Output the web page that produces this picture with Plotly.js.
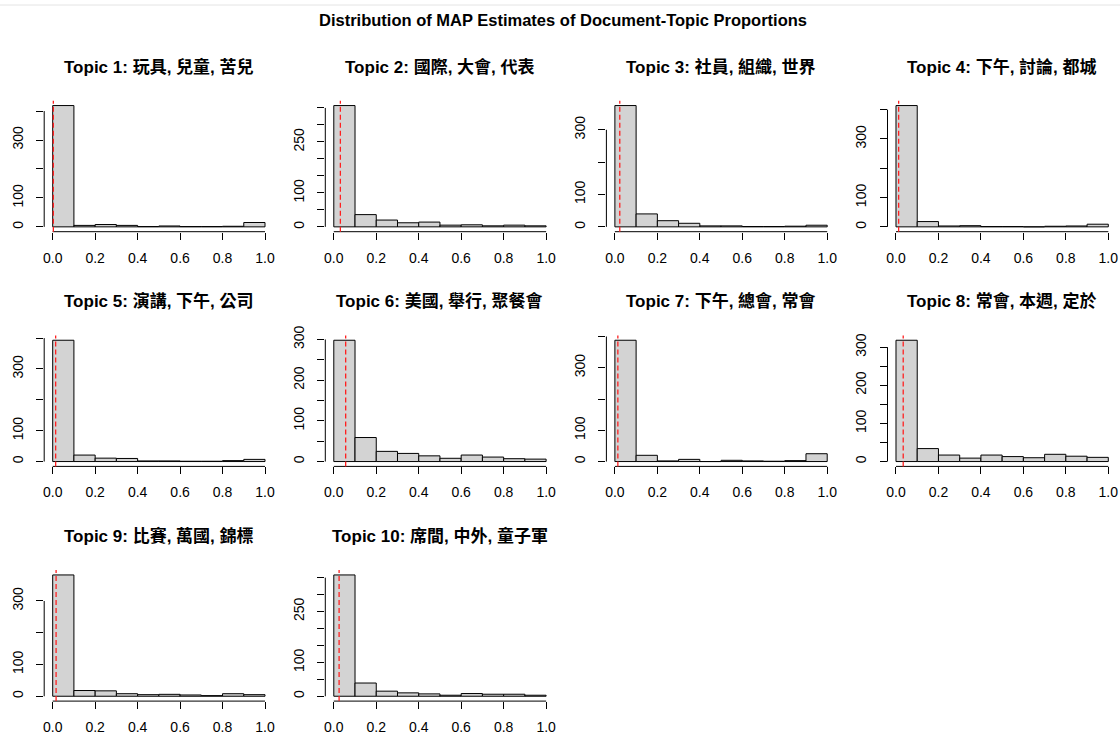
<!DOCTYPE html>
<html><head><meta charset="utf-8">
<script src="https://cdn.plot.ly/plotly-3.0.1.min.js"></script>
<style>html,body{margin:0;padding:0;background:#fff}#chart{width:1120px;height:734px}</style>
</head><body><div id="chart"></div>
<script>
const mainTitle = "Distribution of MAP Estimates of Document-Topic Proportions";
const topicTitles = [
  "Topic 1: 玩具, 兒童, 苦兒",
  "Topic 2: 國際, 大會, 代表",
  "Topic 3: 社員, 組織, 世界",
  "Topic 4: 下午, 討論, 都城",
  "Topic 5: 演講, 下午, 公司",
  "Topic 6: 美國, 舉行, 聚餐會",
  "Topic 7: 下午, 總會, 常會",
  "Topic 8: 常會, 本週, 定於",
  "Topic 9: 比賽, 萬國, 錦標",
  "Topic 10: 席間, 中外, 童子軍"
];
const binEdges = [0, 0.1, 0.2, 0.3, 0.4, 0.5, 0.6, 0.7, 0.8, 0.9, 1.0];
const xTickVals = [0, 0.2, 0.4, 0.6, 0.8, 1.0];
const xTickText = ["0.0", "0.2", "0.4", "0.6", "0.8", "1.0"];

const counts1  = [419, 5, 8, 5, 1, 3, 1, 1, 2, 15];
const counts2  = [357, 36, 20, 12, 14, 5, 6, 3, 5, 3];
const counts3  = [375, 40, 19, 11, 3, 3, 1, 1, 2, 5];
const counts4  = [414, 18, 3, 4, 1, 1, 0, 2, 3, 9];
const counts5  = [393, 21, 11, 10, 2, 2, 1, 1, 3, 7];
const counts6  = [298, 59, 25, 20, 14, 8, 16, 11, 7, 6];
const counts7  = [388, 20, 2, 7, 0, 4, 2, 1, 3, 25];
const counts8  = [318, 34, 17, 9, 17, 13, 10, 19, 14, 11];
const counts9  = [382, 18, 17, 8, 5, 6, 4, 2, 8, 5];
const counts10 = [358, 39, 15, 10, 7, 3, 8, 6, 6, 3];
const allCounts = [counts1, counts2, counts3, counts4, counts5, counts6, counts7, counts8, counts9, counts10];

const medians = [0.003, 0.031, 0.023, 0.0125, 0.014, 0.056, 0.014, 0.034, 0.016, 0.025];

const yTicks100to400 = [0, 100, 200, 300, 400];
const yTicks100to300 = [0, 100, 200, 300];
const yTicks50to350 = [0, 50, 100, 150, 200, 250, 300, 350];
const yTicks50to300 = [0, 50, 100, 150, 200, 250, 300];
const yTickVals = [yTicks100to400, yTicks50to350, yTicks100to300, yTicks100to400, yTicks100to400,
                   yTicks50to300, yTicks100to400, yTicks50to300, yTicks100to300, yTicks50to350];
const yTickTextA = ["0", "100", "", "300", ""];
const yTickTextB = ["0", "", "100", "", "", "250", "", ""];
const yTickTextC = ["0", "100", "", "300"];
const yTickTextD = ["0", "", "100", "", "200", "", "300"];
const yTickTexts = [yTickTextA, yTickTextB, yTickTextC, yTickTextA, yTickTextA,
                    yTickTextD, yTickTextA, yTickTextD, yTickTextC, yTickTextB];

const W = 1120, H = 734;
const FONT = "Liberation Sans, Arial, 'Noto Sans CJK TC', sans-serif";
const centers = binEdges.slice(0, -1).map((e, k) => (e + binEdges[k + 1]) / 2);
const widths = binEdges.slice(0, -1).map((e, k) => binEdges[k + 1] - e);

const data = [];
const layout = {
  width: W, height: H,
  margin: {l: 0, r: 0, t: 0, b: 0},
  paper_bgcolor: "#fff", plot_bgcolor: "#fff",
  showlegend: false,
  font: {family: FONT, color: "#000"},
  title: {text: "<b>" + mainTitle + "</b>", x: 563 / W, xanchor: "center", y: 1 - 20 / H, yanchor: "middle",
          font: {family: FONT, size: 16.5, color: "#000"}},
  shapes: [
    {type: "line", xref: "paper", yref: "paper", x0: 0, x1: 1, y0: 1 - 5 / H, y1: 1 - 5 / H,
     line: {color: "#e4e4e4", width: 1}}
  ],
  annotations: []
};

for (let i = 0; i < 10; i++) {
  const row = Math.floor(i / 4), col = i % 4;
  const n = i + 1;
  const xa = "x" + (n === 1 ? "" : n), ya = "y" + (n === 1 ? "" : n);
  const left = 44.2 + 281.1 * col, right = left + 229.3;
  const top = 100.7 + 234.7 * row, bottom = top + 131;
  const counts = allCounts[i];
  const M = Math.max(...counts);
  data.push({
    type: "bar", x: centers, y: counts, width: widths,
    xaxis: xa, yaxis: ya,
    marker: {color: "#D3D3D3", line: {color: "#000", width: 1}},
    hoverinfo: "x+y"
  });
  const axCommon = {
    showgrid: false, zeroline: false, showline: false,
    ticks: "outside", ticklen: 7, tickwidth: 1, tickcolor: "#000",
    tickfont: {family: FONT, size: 14, color: "#000"}, fixedrange: true
  };
  layout["xaxis" + (n === 1 ? "" : n)] = Object.assign({}, axCommon, {
    domain: [left / W, right / W], anchor: ya,
    range: [-0.04, 1.04], tickmode: "array", tickvals: xTickVals, ticktext: xTickText,
    ticklabelstandoff: 6
  });
  const yv = yTickVals[i];
  layout["yaxis" + (n === 1 ? "" : n)] = Object.assign({}, axCommon, {
    domain: [1 - bottom / H, 1 - top / H], anchor: xa,
    range: [-0.04 * M, 1.04 * M], tickmode: "array", tickvals: yv, ticktext: yTickTexts[i],
    tickangle: -90, ticklabelstandoff: 8
  });
  layout.shapes.push({type: "line", xref: xa, yref: ya + " domain", x0: xTickVals[0], x1: xTickVals[xTickVals.length - 1],
                      y0: 0, y1: 0, line: {color: "#000", width: 1}});
  layout.shapes.push({type: "line", xref: xa + " domain", yref: ya, x0: 0, x1: 0, y0: yv[0], y1: yv[yv.length - 1],
                      line: {color: "#000", width: 1}});
  layout.shapes.push({type: "line", xref: xa, yref: ya + " domain", x0: medians[i], x1: medians[i], y0: 0, y1: 1,
                      line: {color: "#ff2020", width: 1.3, dash: "5px,3px"}});
  layout.annotations.push({
    text: "<b>" + topicTitles[i] + "</b>", xref: xa + " domain", yref: ya + " domain", x: 0.5, y: 1,
    xanchor: "center", yanchor: "middle", yshift: 34, showarrow: false,
    font: {family: FONT, size: 17, color: "#000"}
  });
}

Plotly.newPlot("chart", data, layout, {displayModeBar: false, staticPlot: true});
</script>
</body></html>
